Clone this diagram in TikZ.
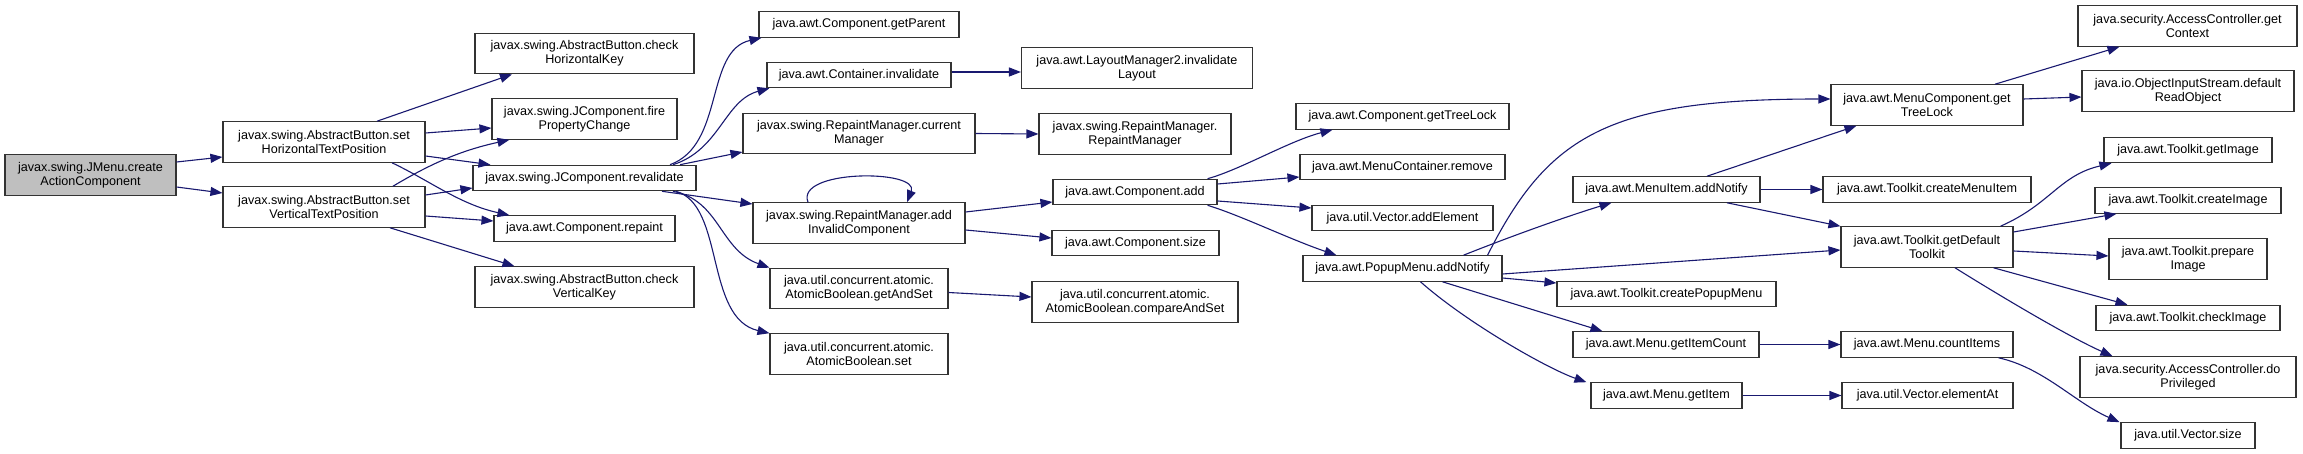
\documentclass[tikz,border=0pt]{standalone}
\usepackage{fontspec}
\setmainfont{Liberation Sans}
\usepackage{tikz}
\usetikzlibrary{arrows.meta}
\definecolor{edgeblue}{HTML}{191970}
\definecolor{rootgray}{HTML}{BFBFBF}

\begin{document}
\begin{tikzpicture}[x=1pt, y=-1pt, >={Triangle[length=12pt, width=9pt]},
  fn/.style={draw=black!80, line width=1.1pt, fill=white, align=center, inner sep=0pt,
             font=\fontsize{12.6}{14.3}\selectfont},
  one/.style={minimum height=25.5},
  two/.style={minimum height=40.5},
  call/.style={->, edgeblue, line width=1.1pt}]
  \path[use as bounding box, fill=white] (0,0) rectangle (2303,454);

  % callers and first level
  \node[fn, two, fill=rootgray, minimum width=171] (root) at (90.5,175) {javax.swing.JMenu.create\\ActionComponent};
  \node[fn, two, minimum width=202] (setH) at (324,142) {javax.swing.AbstractButton.set\\HorizontalTextPosition};
  \node[fn, two, minimum width=202] (setV) at (324,207) {javax.swing.AbstractButton.set\\VerticalTextPosition};

  \node[fn, two, minimum width=219] (checkH)   at (584.5,53.5) {javax.swing.AbstractButton.check\\HorizontalKey};
  \node[fn, two, minimum width=185] (fireProp) at (584.5,119)  {javax.swing.JComponent.fire\\PropertyChange};
  \node[fn, one, minimum width=223] (reval)    at (584.5,178)  {javax.swing.JComponent.revalidate};
  \node[fn, one, minimum width=181] (repaint)  at (584.5,228.5) {java.awt.Component.repaint};
  \node[fn, two, minimum width=219] (checkV)   at (584.5,287)  {javax.swing.AbstractButton.check\\VerticalKey};

  \node[fn, one, minimum width=200] (getParent) at (859,24.5)  {java.awt.Component.getParent};
  \node[fn, one, minimum width=184] (contInv)   at (859,75)    {java.awt.Container.invalidate};
  \node[fn, two, minimum width=232] (curMgr)    at (859,133.5) {javax.swing.RepaintManager.current\\Manager};
  \node[fn, two, minimum width=212] (addInv)    at (859,223)   {javax.swing.RepaintManager.add\\InvalidComponent};
  \node[fn, two, minimum width=178] (getAndSet) at (859,288.5) {java.util.concurrent.atomic.\\AtomicBoolean.getAndSet};
  \node[fn, two, minimum width=178] (abSet)     at (859,354)   {java.util.concurrent.atomic.\\AtomicBoolean.set};

  \node[fn, two, minimum width=231] (lm2)      at (1137,68)    {java.awt.LayoutManager2.invalidate\\Layout};
  \node[fn, two, minimum width=192] (rmRM)     at (1135,134)   {javax.swing.RepaintManager.\\RepaintManager};
  \node[fn, one, minimum width=164] (compAdd)  at (1135,192)   {java.awt.Component.add};
  \node[fn, one, minimum width=167] (compSize) at (1135.5,243) {java.awt.Component.size};
  \node[fn, two, minimum width=206] (cmpSet)   at (1135,302)   {java.util.concurrent.atomic.\\AtomicBoolean.compareAndSet};

  \node[fn, one, minimum width=213] (getTreeLock) at (1402.5,116.5) {java.awt.Component.getTreeLock};
  \node[fn, one, minimum width=205] (mcRemove)    at (1402.5,167)   {java.awt.MenuContainer.remove};
  \node[fn, one, minimum width=181] (addElem)     at (1402.5,218)   {java.util.Vector.addElement};
  \node[fn, one, minimum width=199] (popNotify)   at (1402.5,268.5) {java.awt.PopupMenu.addNotify};

  \node[fn, one, minimum width=187] (miNotify)     at (1666.5,189.5) {java.awt.MenuItem.addNotify};
  \node[fn, one, minimum width=219] (createPM)     at (1666.5,294)   {java.awt.Toolkit.createPopupMenu};
  \node[fn, one, minimum width=186] (getItemCount) at (1666,344.5)   {java.awt.Menu.getItemCount};
  \node[fn, one, minimum width=151] (getItem)      at (1666.5,395.5) {java.awt.Menu.getItem};

  \node[fn, two, minimum width=192] (mcTree)     at (1927,105)    {java.awt.MenuComponent.get\\TreeLock};
  \node[fn, one, minimum width=208] (createMI)   at (1927,189.5)  {java.awt.Toolkit.createMenuItem};
  \node[fn, two, minimum width=172] (defTk)      at (1927,247)    {java.awt.Toolkit.getDefault\\Toolkit};
  \node[fn, one, minimum width=172] (countItems) at (1927,344.5)  {java.awt.Menu.countItems};
  \node[fn, one, minimum width=171] (elementAt)  at (1927.5,395.5) {java.util.Vector.elementAt};

  \node[fn, two, minimum width=219] (getContext)  at (2187.5,26) {java.security.AccessController.get\\Context};
  \node[fn, two, minimum width=212] (readObj)     at (2188,91)   {java.io.ObjectInputStream.default\\ReadObject};
  \node[fn, one, minimum width=168] (getImage)    at (2188,150)  {java.awt.Toolkit.getImage};
  \node[fn, one, minimum width=186] (createImage) at (2188,200.5) {java.awt.Toolkit.createImage};
  \node[fn, two, minimum width=158] (prepImage)   at (2188,259)  {java.awt.Toolkit.prepare\\Image};
  \node[fn, one, minimum width=184] (checkImage)  at (2188,318)  {java.awt.Toolkit.checkImage};
  \node[fn, two, minimum width=216] (doPriv)      at (2188,377)  {java.security.AccessController.do\\Privileged};
  \node[fn, one, minimum width=134] (vecSize)     at (2188,435.5) {java.util.Vector.size};

  % calls
  \draw[call] ([yshift=13]root.east) -- ([yshift=-15]setH.west);
  \draw[call] ([yshift=-12]root.east) -- ([yshift=14]setV.west);

  \draw[call] ([xshift=53]setH.north) -- ([xshift=-72.5]checkH.south);
  \draw[call] ([yshift=9]setH.east) -- ([yshift=-9]fireProp.west);
  \draw[call] ([yshift=-14]setH.east) -- ([xshift=18]reval.north west);
  \draw[call] ([xshift=68]setH.south) .. controls +(38,18) and +(-50,-11) .. ([xshift=16]repaint.north west);
  \draw[call] ([xshift=69]setV.north) .. controls +(37,-22) and +(-50,11) .. ([xshift=18]fireProp.south west);
  \draw[call] ([yshift=12]setV.east) -- ([yshift=-10]reval.west);
  \draw[call] ([yshift=-9]setV.east) -- ([yshift=7.5]repaint.west);
  \draw[call] ([xshift=66]setV.south) -- ([xshift=40]checkV.north west);

  \draw[call] ([xshift=85.5]reval.north) .. controls +(55,-20) and +(-57,13) .. ([xshift=3]getParent.south west);
  \draw[call] ([xshift=88.5]reval.north) .. controls +(47,-15) and +(-45,12) .. ([xshift=3]contInv.south west);
  \draw[call] ([xshift=95.5]reval.north) -- ([yshift=-18.5]curMgr.west);
  \draw[call] ([xshift=77.5]reval.south) -- ([yshift=19]addInv.west);
  \draw[call] ([xshift=88.5]reval.south) .. controls +(47,9) and +(-50,-18) .. (getAndSet.north west);
  \draw[call] ([xshift=91.5]reval.south) .. controls +(49,14) and +(-65,-15) .. (abSet.north west);

  \draw[call] ([xshift=-51]addInv.north) .. controls +(-13,-33) and +(13,-33) .. ([xshift=48]addInv.north);
  \draw[call] ([yshift=3]contInv.east) -- ([yshift=-4]lm2.west);
  \draw[call] (curMgr.east) -- (rmRM.west);
  \draw[call] ([yshift=11]addInv.east) -- ([yshift=-10]compAdd.west);
  \draw[call] ([yshift=-7]addInv.east) -- ([yshift=5]compSize.west);
  \draw[call] ([yshift=-4]getAndSet.east) -- ([yshift=5]cmpSet.west);

  \draw[call] ([xshift=-10]compAdd.north east) .. controls +(33,-9) and +(-43,11) .. ([xshift=37]getTreeLock.south west);
  \draw[call] ([yshift=8]compAdd.east) -- ([yshift=-10]mcRemove.west);
  \draw[call] ([yshift=-9]compAdd.east) -- ([yshift=10]addElem.west);
  \draw[call] ([xshift=-10]compAdd.south east) .. controls +(33,10) and +(-47,-16) .. ([xshift=34]popNotify.north west);

  \draw[call] ([xshift=-15]popNotify.north east) .. controls +(61,-121) and +(-221,0) .. ([yshift=6]mcTree.west);
  \draw[call] ([xshift=-39]popNotify.north east) .. controls +(50,-20) and +(-40,12) .. ([xshift=39]miNotify.south west);
  \draw[call] ([yshift=-5.5]popNotify.east) -- ([yshift=-3]defTk.west);
  \draw[call] ([yshift=-9.5]popNotify.east) -- ([yshift=11]createPM.west);
  \draw[call] ([xshift=40]popNotify.south) -- ([xshift=30]getItemCount.north west);
  \draw[call] ([xshift=18]popNotify.south) .. controls +(45,40) and +(-40,-14) .. ([xshift=-4]getItem.north west);

  \draw[call] ([xshift=40.5]miNotify.north) -- ([xshift=26]mcTree.south west);
  \draw[call] (miNotify.east) -- (createMI.west);
  \draw[call] ([xshift=60.5]miNotify.south) -- (defTk.north west);

  \draw[call] ([xshift=68]mcTree.north) -- ([xshift=42]getContext.south west);
  \draw[call] ([yshift=6]mcTree.east) -- ([yshift=-6]readObj.west);

  \draw[call] ([xshift=-13]defTk.north east) .. controls +(50,-22) and +(-52,12) .. ([xshift=8]getImage.south west);
  \draw[call] ([yshift=15]defTk.east) -- ([xshift=22]createImage.south west);
  \draw[call] ([yshift=-4]defTk.east) -- ([yshift=3]prepImage.west);
  \draw[call] ([xshift=-20]defTk.south east) -- ([xshift=32]checkImage.north west);
  \draw[call] ([xshift=28]defTk.south) .. controls +(40,25) and +(-45,-20) .. ([xshift=33]doPriv.north west);

  \draw[call] (getItemCount.east) -- (countItems.west);
  \draw[call] (getItem.east) -- (elementAt.west);
  \draw[call] ([xshift=-15]countItems.south east) .. controls +(45,10) and +(-45,-20) .. ([xshift=-1]vecSize.north west);
\end{tikzpicture}
\end{document}
